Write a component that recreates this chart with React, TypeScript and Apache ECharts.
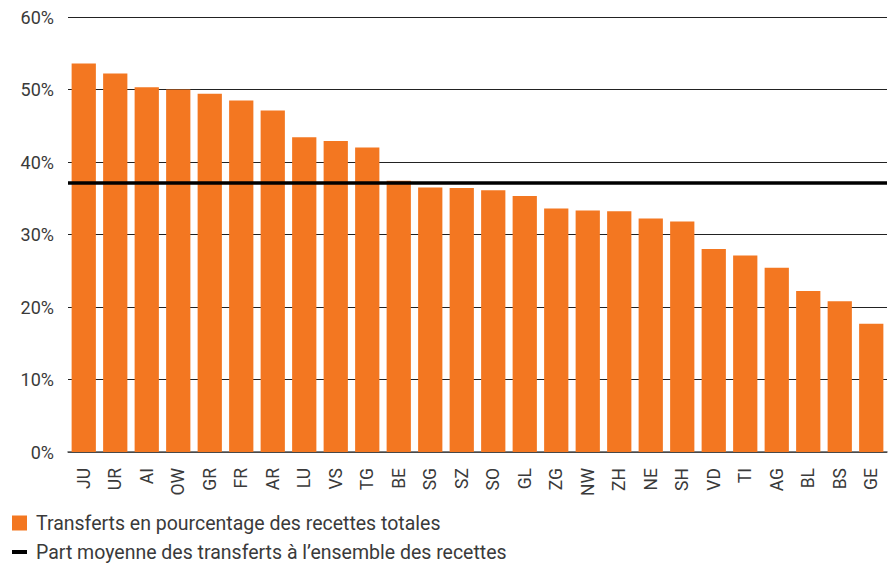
import React, { useEffect, useRef } from "react";
import * as echarts from "echarts";

const categories = ["JU","UR","AI","OW","GR","FR","AR","LU","VS","TG","BE","SG","SZ","SO","GL","ZG","NW","ZH","NE","SH","VD","TI","AG","BL","BS","GE"];
const transferShare = [53.6,52.2,50.3,50.0,49.4,48.5,47.1,43.4,42.9,42.0,37.4,36.5,36.4,36.1,35.3,33.6,33.3,33.2,32.2,31.8,28.0,27.1,25.4,22.2,20.8,17.7];
const meanShare = 37.2;
const yTicks = { min: 0, max: 60, interval: 10 };
const barName = "Transferts en pourcentage des recettes totales";
const lineName = "Part moyenne des transferts à l’ensemble des recettes";

export default function App() {
  const ref = useRef<HTMLDivElement>(null);
  useEffect(() => {
    document.body.style.margin = "0";
    if (!ref.current) return;
    const chart = echarts.init(ref.current, undefined, { renderer: "svg" });
    const font = "Roboto, 'Noto Sans', sans-serif";
    chart.setOption({
      animation: false,
      textStyle: { fontFamily: font },
      grid: { left: 68, right: 6, top: 17, bottom: 111 },
      legend: {
        orient: "vertical",
        left: 12,
        top: 512,
        padding: 0,
        itemWidth: 15,
        itemHeight: 15,
        itemGap: 7,
        textStyle: { fontSize: 19.5, color: "#3a3a3a", fontFamily: font, lineHeight: 22, padding: [0, 0, 0, 4] },
        data: [
          { name: barName, icon: "rect" },
          { name: lineName, icon: "path://M0,0h15v4h-15z" },
        ],
      },
      xAxis: {
        type: "category",
        data: categories,
        axisTick: { show: false },
        axisLine: { lineStyle: { color: "#555", width: 1.5 } },
        axisLabel: { rotate: 90, fontSize: 17.5, color: "#3a3a3a", margin: 16, fontFamily: font },
      },
      yAxis: {
        type: "value",
        min: yTicks.min,
        max: yTicks.max,
        interval: yTicks.interval,
        axisLabel: { formatter: "{value}%", fontSize: 18, color: "#3a3a3a", margin: 14, fontFamily: font },
        splitLine: { lineStyle: { color: "#222", width: 1 } },
        axisLine: { show: false },
        axisTick: { show: false },
      },
      series: [
        {
          name: barName,
          type: "bar",
          data: transferShare,
          barCategoryGap: "23%",
          itemStyle: { color: "#F37721" },
        },
        {
          name: lineName,
          type: "line",
          data: [],
          itemStyle: { color: "#000" },
          lineStyle: { color: "#000" },
          markLine: {
            silent: true,
            symbol: "none",
            label: { show: false },
            lineStyle: { color: "#000", width: 3.5, type: "solid" },
            data: [{ yAxis: meanShare }],
          },
        },
      ],
    });
    return () => chart.dispose();
  }, []);
  return <div ref={ref} style={{ width: 893, height: 563 }} />;
}
